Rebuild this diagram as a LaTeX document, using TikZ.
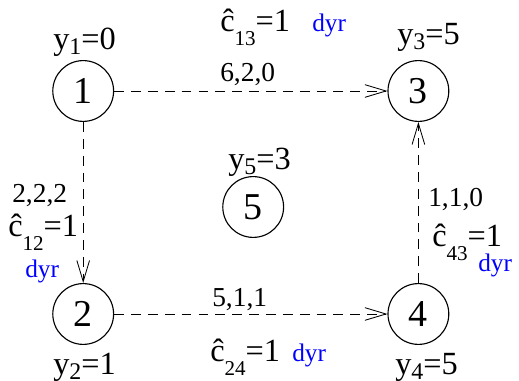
\documentclass[tikz,border=0pt]{standalone}
\usepackage{fontspec}
\setmainfont{Liberation Serif}
\usetikzlibrary{arrows.meta}

\newcommand{\ysub}[1]{\raisebox{-0.15em}{\fontsize{17}{20}\selectfont #1}}
\newcommand{\csub}[1]{\raisebox{-0.42em}{\fontsize{15}{18}\selectfont #1}}

\tikzset{
  vertex/.style={circle, draw, line width=0.8pt, minimum size=1.52cm, inner sep=0pt,
    font=\fontsize{27}{32}\selectfont},
  lbl/.style={anchor=base west, inner sep=0pt, font=\fontsize{23}{27}\selectfont},
  wlbl/.style={anchor=base west, inner sep=0pt, font=\fontsize{19.5}{23}\selectfont},
  dyr/.style={anchor=base west, inner sep=0pt, font=\fontsize{18}{21}\selectfont, text=blue},
  flow/.style={->, line width=0.6pt, dash pattern=on 7pt off 5pt}
}

\begin{document}
\begin{tikzpicture}[>={Straight Barb[length=15pt,width=9pt]}, scale=1.0]

  \useasboundingbox (0,0) rectangle (12.975,9.525);

  % 1. Cac dinh
  \node[vertex] (n1) at (2.08,7.25) {1};
  \node[vertex] (n3) at (10.46,7.25) {3};
  \node[vertex] (n2) at (2.08,1.675) {2};
  \node[vertex] (n4) at (10.46,1.675) {4};
  \node[vertex] (n5) at (6.33,4.35) {5};

  % 2. Cac cung (net dut)
  \draw[flow] (n1) -- (n3);
  \draw[flow] (n1) -- (n2);
  \draw[flow] (n2) -- (n4);
  \draw[flow] (n4) -- (n3);

  % 3. Nhan cua dinh
  \node[lbl] (y1) at (1.325,8.275) {y\ysub{1}=0};
  \node[lbl] (y3) at (9.925,8.4) {y\ysub{3}=5};
  \node[lbl] (y5) at (5.7,5.275) {y\ysub{5}=3};
  \node[lbl] (y2) at (1.325,0.15) {y\ysub{2}=1};
  \node[lbl] (y4) at (9.875,0.15) {y\ysub{4}=5};

  % 4. Nhan cua cung
  \node[wlbl] (w13) at (5.5,7.475) {6,2,0};
  \node[lbl] (c13) at (5.5,8.725) {\^c\csub{13}=1};
  \node[dyr] (d13) at (7.8,8.725) {dyr};

  \node[wlbl] (w12) at (0.3,4.45) {2,2,2};
  \node[lbl] (c12) at (0.2,3.6) {\^c\csub{12}=1};
  \node[dyr] (d12) at (0.625,2.575) {dyr};

  \node[wlbl] (w24) at (5.3,1.85) {5,1,1};
  \node[lbl] (c24) at (5.25,0.475) {\^c\csub{24}=1};
  \node[dyr] (d24) at (7.3,0.475) {dyr};

  \node[wlbl] (w43) at (10.7,4.35) {1,1,0};
  \node[lbl] (c43) at (10.8,3.35) {\^c\csub{43}=1};
  \node[dyr] (d43) at (11.95,2.725) {dyr};

\end{tikzpicture}
\end{document}
